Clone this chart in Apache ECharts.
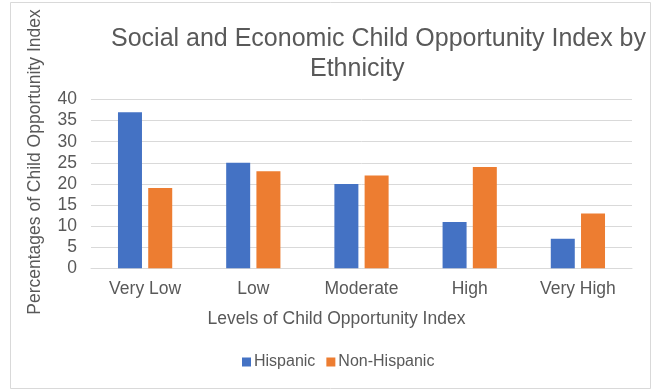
<!DOCTYPE html>
<html>
<head>
<meta charset="utf-8">
<script src="https://cdn.jsdelivr.net/npm/echarts@6/dist/echarts.min.js"></script>
<style>
html,body{margin:0;padding:0;background:#fff;}
#chart{width:652px;height:390px;}
</style>
</head>
<body>
<div id="chart"></div>
<script>
const categories = ['Very Low', 'Low', 'Moderate', 'High', 'Very High'];
const hispanic = [37, 25, 20, 11, 7];
const nonHispanic = [19, 23, 22, 24, 13];
const yTicks = { min: 0, max: 40, interval: 5 };

const FONT = '"Liberation Sans", Arial, Helvetica, sans-serif';
const TXT = '#595959';

const chart = echarts.init(document.getElementById('chart'), null, { renderer: 'canvas' });
chart.setOption({
  animation: false,
  backgroundColor: '#ffffff',
  textStyle: { fontFamily: FONT },
  title: [
    { text: 'Social and Economic Child Opportunity Index by', left: 111, top: 27, padding: 0,
      textStyle: { fontSize: 25, fontWeight: 'normal', color: TXT, fontFamily: FONT } },
    { text: 'Ethnicity', left: 310, top: 57, padding: 0,
      textStyle: { fontSize: 25, fontWeight: 'normal', color: TXT, fontFamily: FONT } }
  ],
  grid: { left: 91, width: 541, top: 99.5, height: 168.8 },
  legend: {
    data: ['Hispanic', 'Non-Hispanic'],
    left: 242, top: 354, padding: 0,
    itemWidth: 9, itemHeight: 9, itemGap: 11,
    icon: 'rect',
    textStyle: { fontSize: 16, color: TXT, fontFamily: FONT, padding: [0, 0, 0, -2] }
  },
  xAxis: {
    type: 'category',
    data: categories,
    axisLine: { lineStyle: { color: '#d9d9d9' } },
    axisTick: { show: false },
    axisLabel: { fontSize: 17.5, color: TXT, fontFamily: FONT, margin: 12 }
  },
  yAxis: {
    type: 'value',
    min: yTicks.min, max: yTicks.max, interval: yTicks.interval,
    axisLine: { show: false },
    axisTick: { show: false },
    splitLine: { lineStyle: { color: '#d9d9d9' } },
    axisLabel: { fontSize: 17.5, color: TXT, fontFamily: FONT, margin: 14 }
  },
  series: [
    { name: 'Hispanic', type: 'bar', data: hispanic, barWidth: 24, barGap: '26%',
      itemStyle: { color: '#4472C4' } },
    { name: 'Non-Hispanic', type: 'bar', data: nonHispanic, barWidth: 24,
      itemStyle: { color: '#ED7D31' } }
  ],
  graphic: [
    { type: 'rect', shape: { x: 10.5, y: 2.5, width: 640, height: 386 },
      style: { fill: 'none', stroke: '#d9d9d9', lineWidth: 1 }, silent: true },
    { type: 'text', x: 35, y: 162, rotation: Math.PI / 2,
      style: { text: 'Percentages of Child Opportunity Index', fontSize: 17.5, fontFamily: FONT,
        fill: TXT, textAlign: 'center', textVerticalAlign: 'middle' } },
    { type: 'text', x: 336.5, y: 319,
      style: { text: 'Levels of Child Opportunity Index', fontSize: 17.5, fontFamily: FONT,
        fill: TXT, textAlign: 'center', textVerticalAlign: 'middle' } }
  ]
});
</script>
</body>
</html>
